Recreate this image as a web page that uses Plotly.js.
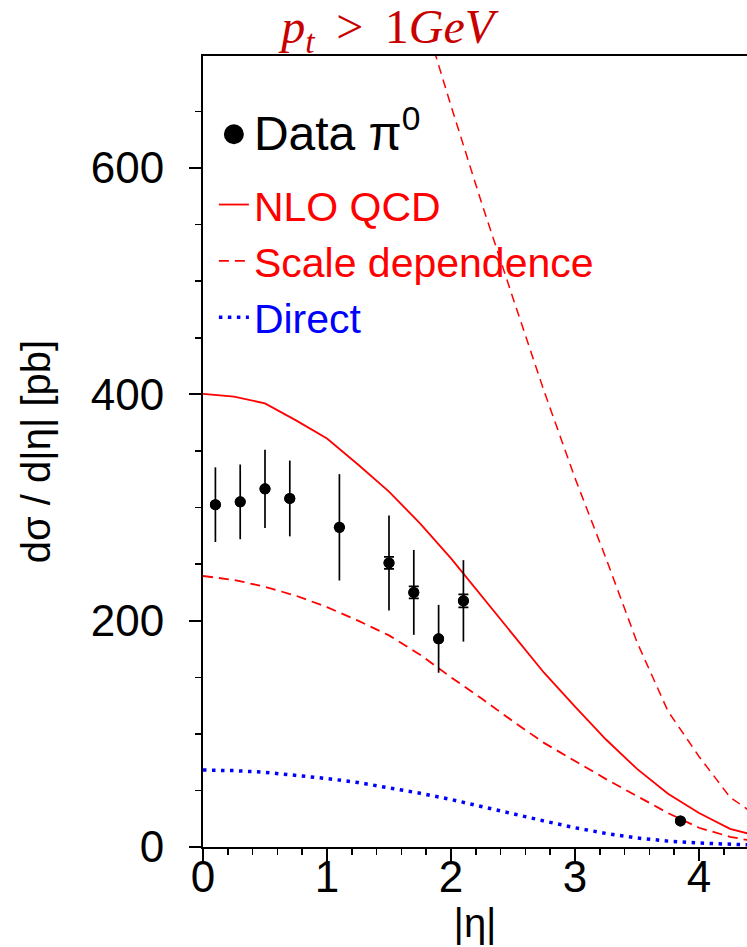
<!DOCTYPE html>
<html>
<head>
<meta charset="utf-8">
<script src="https://cdn.plot.ly/plotly-3.0.1.min.js"></script>
<style>html,body{margin:0;padding:0;background:#fff;}#chart{width:747px;height:947px;}</style>
</head>
<body>
<div id="chart"></div>
<script>
// Data points (pi0)
const dataEta = [0.1, 0.3, 0.5, 0.7, 1.1, 1.5, 1.7, 1.9, 2.1, 3.85];
const dataVal = [302.5, 305, 316.5, 308, 282.5, 251, 225, 184, 217.5, 23];
const dataErrTot = [33, 33, 34.5, 33.5, 47, 42, 37.5, 30, 36, 0];
const dataErrStat = [0, 0, 0, 0, 0, 5.3, 5.3, 0, 5.7, 0];

// Theory curves
const curveEta = [0, 0.25, 0.5, 0.75, 1.0, 1.25, 1.5, 1.75, 2.0, 2.25, 2.5, 2.75, 3.0, 3.25, 3.5, 3.75, 4.0, 4.25, 4.5];
const nloQcd   = [400.5, 398, 392, 377, 361, 338, 314, 286, 255, 221, 188, 154, 124, 95, 69, 47, 30, 16, 9];
const scaleLow = [239.5, 236, 230, 222, 212, 200, 187, 170, 150, 131, 111, 92, 76, 60, 45, 30, 17, 9, 4];
const direct   = [68, 67.5, 66, 63.5, 60.5, 57, 52.5, 47.5, 42, 35.5, 29.5, 23, 17, 12, 8, 5.2, 3.5, 2.3, 1.5];
const scaleHighEta = [1.5, 1.75, 2.0, 2.25, 2.5, 2.75, 3.0, 3.25, 3.5, 3.75, 4.0, 4.25, 4.5];
const scaleHigh    = [830, 745, 655, 568, 485, 403, 326, 255, 181, 120, 80, 44, 25];

const yTicks = [0, 200, 400, 600];
const xTicks = [0, 1, 2, 3, 4];

const FONT = '"Liberation Sans", Arial, Helvetica, sans-serif';

const traces = [
  {
    x: curveEta, y: nloQcd, mode: 'lines', name: '<span style="color:#ff0000">NLO QCD</span>',
    line: {color: '#ff0000', width: 1.8}, legendrank: 2, legendgroup: 'theory'
  },
  {
    x: curveEta, y: scaleLow, mode: 'lines', name: '<span style="color:#ff0000">Scale dependence</span>',
    line: {color: '#ff0000', width: 1.8, dash: '10px,6px'}, legendrank: 3, legendgroup: 'theory'
  },
  {
    x: scaleHighEta, y: scaleHigh, mode: 'lines', showlegend: false, legendgroup: 'theory',
    line: {color: '#ff0000', width: 1.5, dash: '9px,6px'}
  },
  {
    x: curveEta, y: direct, mode: 'lines', name: '<span style="color:#0000ff">Direct</span>',
    line: {color: '#0000ff', width: 3.5, dash: '3.5px,5.5px'}, legendrank: 4, legendgroup: 'theory'
  },
  {
    x: dataEta, y: dataVal, mode: 'markers', showlegend: false,
    marker: {color: '#000', size: 11},
    error_y: {type: 'data', array: dataErrTot, visible: true, color: '#000', thickness: 1.7, width: 0}
  },
  {
    x: dataEta, y: dataVal, mode: 'markers', showlegend: false,
    marker: {color: '#000', size: 11},
    error_y: {type: 'data', array: dataErrStat, visible: true, color: '#000', thickness: 1.7, width: 5}
  },
  {
    x: [null], y: [null], mode: 'markers', legendgroup: 'data',
    name: '<span style="font-size:48px">Data π<sup>0</sup></span>',
    marker: {color: '#000', size: 16, line: {color: '#000', width: 4}}, legendrank: 1
  }
];

const layout = {
  width: 747, height: 947,
  margin: {l: 203, r: 0, t: 56, b: 100, pad: 0},
  paper_bgcolor: '#fff', plot_bgcolor: '#fff',
  font: {family: FONT, color: '#000'},
  showlegend: true,
  title: {
    text: '<i>p</i><sub><i>t</i></sub>\u2009 &gt; \u20091<i>GeV</i>',
    font: {family: '"Liberation Serif", "Times New Roman", serif', size: 48, color: '#c80000'},
    xref: 'container', yref: 'container', x: 0.519, xanchor: 'center', y: 0.972, yanchor: 'middle'
  },
  xaxis: {
    range: [0, 4.387], showgrid: false, zeroline: false,
    tickmode: 'array', tickvals: xTicks, ticktext: xTicks.map(String),
    ticks: 'outside', ticklen: 12, tickwidth: 2, tickcolor: '#000',
    minor: {dtick: 0.2, ticks: 'outside', ticklen: 6, tickwidth: 1.5, tickcolor: '#000', showgrid: false},
    showline: true, linewidth: 2, linecolor: '#000', mirror: true,
    tickfont: {size: 44, family: FONT},
    ticklabelstandoff: -22,
    title: {text: '|η|', font: {size: 40, family: FONT}, standoff: 2}
  },
  yaxis: {
    range: [0, 699], showgrid: false, zeroline: false,
    tickmode: 'array', tickvals: yTicks, ticktext: yTicks.map(String),
    ticks: 'outside', ticklen: 12, tickwidth: 2, tickcolor: '#000',
    minor: {dtick: 50, ticks: 'outside', ticklen: 6, tickwidth: 1.5, tickcolor: '#000', showgrid: false},
    showline: true, linewidth: 2, linecolor: '#000', mirror: false,
    tickfont: {size: 44, family: FONT},
    ticklabelstandoff: 16,
    title: {text: 'dσ / d|η| [pb]', font: {size: 40, family: FONT}, standoff: 28}
  },
  legend: {
    x: 0.02, y: 0.943, xanchor: 'left', yanchor: 'top',
    bgcolor: 'rgba(0,0,0,0)', borderwidth: 0,
    font: {size: 41, family: FONT, color: '#000'},
    itemwidth: 30, traceorder: 'grouped', tracegroupgap: 14
  }
};

Plotly.newPlot('chart', traces, layout, {staticPlot: true});
</script>
</body>
</html>
